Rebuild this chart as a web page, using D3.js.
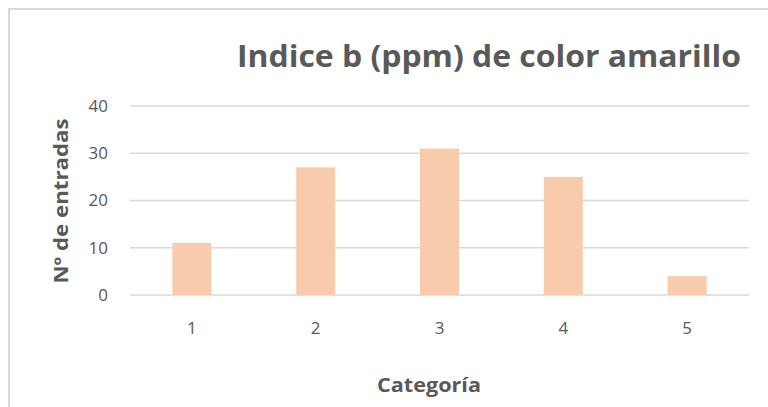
<!DOCTYPE html>
<html>
<head>
<meta charset="utf-8">
<script src="https://cdn.jsdelivr.net/npm/d3@7"></script>
<style>
  body { margin: 0; background: #fff; }
  text { font-family: "Open Sans", "Liberation Sans", sans-serif; fill: #595959; }
</style>
</head>
<body>
<svg id="chart" width="768" height="407"></svg>
<script>
// chart data
const categories = ["1", "2", "3", "4", "5"];
const entradas = [11, 27, 31, 25, 4];
const yTicks = [0, 10, 20, 30, 40];

const svg = d3.select("#chart");
const W = 768, H = 407;
const m = { left: 130, right: 19, top: 106, bottom: 112 };

// outer chart border
svg.append("path")
  .attr("d", `M9,${H} V9 H${W}`)
  .attr("fill", "none")
  .attr("stroke", "#d9d9d9")
  .attr("stroke-width", 2);

const x = d3.scaleBand()
  .domain(categories)
  .range([m.left, W - m.right])
  .paddingInner(0.685)
  .paddingOuter(0.3425);

const y = d3.scaleLinear()
  .domain([0, 40])
  .range([H - m.bottom, m.top]);

// gridlines
svg.append("g")
  .selectAll("line")
  .data(yTicks)
  .enter()
  .append("line")
  .attr("x1", m.left)
  .attr("x2", W - m.right)
  .attr("y1", d => y(d))
  .attr("y2", d => y(d))
  .attr("stroke", "#d9d9d9")
  .attr("stroke-width", 1.3);

// bars
svg.append("g")
  .selectAll("rect")
  .data(entradas)
  .enter()
  .append("rect")
  .attr("x", (d, i) => x(categories[i]))
  .attr("width", x.bandwidth())
  .attr("y", d => y(d))
  .attr("height", d => y(0) - y(d))
  .attr("fill", "#f8cbad");

// y tick labels
svg.append("g")
  .selectAll("text")
  .data(yTicks)
  .enter()
  .append("text")
  .attr("x", 108)
  .attr("y", d => y(d))
  .attr("dy", "0.35em")
  .attr("text-anchor", "end")
  .style("font-size", "17px")
  .text(d => d);

// x tick labels
svg.append("g")
  .selectAll("text")
  .data(categories)
  .enter()
  .append("text")
  .attr("x", d => x(d) + x.bandwidth() / 2)
  .attr("y", 328)
  .attr("dy", "0.35em")
  .attr("text-anchor", "middle")
  .style("font-size", "17px")
  .text(d => d);

// title
svg.append("text")
  .attr("x", 489)
  .attr("y", 67)
  .attr("text-anchor", "middle")
  .attr("textLength", 504)
  .attr("lengthAdjust", "spacingAndGlyphs")
  .style("font-size", "31px")
  .style("font-weight", "bold")
  .text("Indice b (ppm) de color amarillo");

// axis titles
svg.append("text")
  .attr("x", 429)
  .attr("y", 392)
  .attr("text-anchor", "middle")
  .attr("textLength", 104)
  .attr("lengthAdjust", "spacingAndGlyphs")
  .style("font-size", "19px")
  .style("font-weight", "bold")
  .text("Categoría");

svg.append("text")
  .attr("transform", "translate(68,201) rotate(-90)")
  .attr("text-anchor", "middle")
  .attr("textLength", 165)
  .attr("lengthAdjust", "spacingAndGlyphs")
  .style("font-size", "19px")
  .style("font-weight", "bold")
  .text("Nº de entradas");
</script>
</body>
</html>
